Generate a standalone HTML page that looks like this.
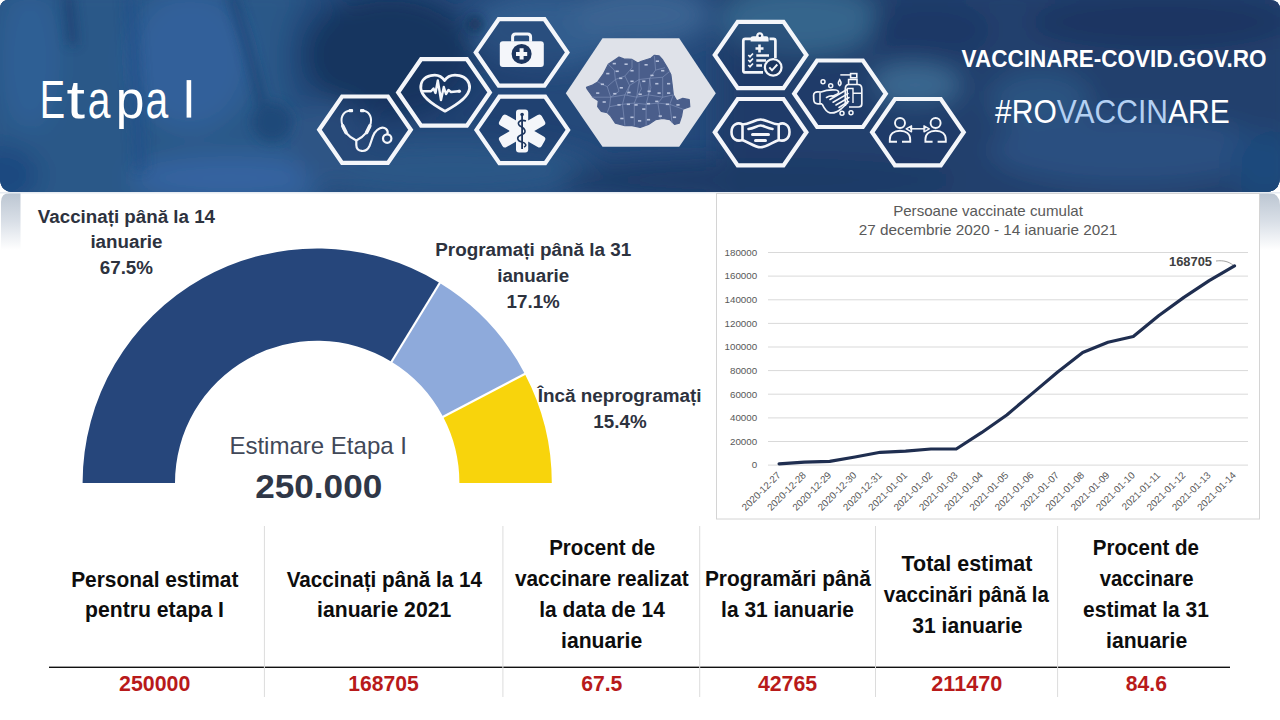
<!DOCTYPE html>
<html><head><meta charset="utf-8">
<style>
html,body{margin:0;padding:0;width:1280px;height:720px;overflow:hidden;background:#fff;}
svg{display:block;font-family:"Liberation Sans", sans-serif;}
</style></head>
<body>
<svg width="1280" height="720" viewBox="0 0 1280 720">
<defs>
  <clipPath id="hdrclip"><path d="M0,9 Q0,0 9,0 L1270,0 Q1280,0 1280,10 L1280,177 Q1280,192 1265,192 L14,192 Q0,192 0,178 Z"/></clipPath>
  <filter id="blur12" x="-50%" y="-50%" width="200%" height="200%"><feGaussianBlur stdDeviation="12"/></filter>
  <filter id="blur6" x="-50%" y="-50%" width="200%" height="200%"><feGaussianBlur stdDeviation="6"/></filter>
  <linearGradient id="tabL" x1="0" y1="0" x2="0" y2="1">
    <stop offset="0" stop-color="#bcc6d2"/><stop offset="0.5" stop-color="#d9dfe7"/><stop offset="1" stop-color="#ffffff"/>
  </linearGradient>
</defs>

<!-- side tabs -->
<path d="M1,250 L1,202 Q1,193 10,193 L20.5,193 L20.5,250 Z" fill="url(#tabL)"/>
<path d="M1259.5,193 L1268,193 Q1280,193 1280,205 L1280,250 L1259.5,250 Z" fill="url(#tabL)"/>

<!-- HEADER -->
<g clip-path="url(#hdrclip)">
  <rect x="0" y="0" width="1280" height="192" fill="#24497a"/>
  <g id="bgblobs"><rect x="0" y="0" width="1280" height="192" fill="#24497a"/>
<g filter="url(#blur12)">
  <!-- left coat -->
  <rect x="-20" y="-20" width="340" height="240" fill="#2b5888"/>
  <ellipse cx="190" cy="60" rx="60" ry="70" fill="#30609a"/>
  <ellipse cx="30" cy="60" rx="30" ry="70" fill="#2f5e94"/>
  <ellipse cx="0" cy="175" rx="40" ry="30" fill="#1f4a80"/>
  <ellipse cx="230" cy="178" rx="100" ry="22" fill="#3463a0"/>
  <ellipse cx="320" cy="60" rx="35" ry="70" fill="#24497a"/>
  <!-- middle -->
  <ellipse cx="545" cy="30" rx="75" ry="38" fill="#335d8e"/>
  <ellipse cx="390" cy="55" rx="85" ry="62" fill="#17365f"/>
  <ellipse cx="640" cy="15" rx="70" ry="30" fill="#3a6492"/>
  <ellipse cx="450" cy="170" rx="150" ry="30" fill="#2c5686"/>
  <ellipse cx="330" cy="140" rx="40" ry="40" fill="#2d5585"/>
  <!-- right navy with bokeh -->
  <rect x="720" y="-20" width="580" height="240" fill="#21406d"/>
  <ellipse cx="800" cy="20" rx="80" ry="35" fill="#35658c"/>
  <ellipse cx="930" cy="30" rx="60" ry="30" fill="#1d3866"/>
  <ellipse cx="915" cy="85" rx="45" ry="22" fill="#3a6890"/>
  <ellipse cx="1040" cy="100" rx="50" ry="30" fill="#2a5280"/>
  <ellipse cx="1160" cy="22" rx="130" ry="28" fill="#1e3662"/>
  <ellipse cx="1130" cy="150" rx="140" ry="35" fill="#2a5080"/>
  <ellipse cx="1265" cy="165" rx="35" ry="35" fill="#1e4a7c"/>
  <ellipse cx="760" cy="180" rx="200" ry="22" fill="#1d3a66"/>
</g>
<g filter="url(#blur6)" opacity="0.85">
  <path d="M68,-5 L73,45" stroke="#1b4070" stroke-width="9"/>
  <path d="M130,-5 C133,50 138,110 140,170" stroke="#24518a" stroke-width="11"/>
  <path d="M232,-5 C246,40 256,75 262,105" stroke="#1c4272" stroke-width="8"/>
  <circle cx="272" cy="122" r="20" fill="#1f4677"/>
  <circle cx="475" cy="24" r="7" fill="#10264a"/>
</g>
</g>
</g>
<rect x="0" y="192" width="1280" height="1.5" fill="#e6ebf2"/>

<g id="hexes"><path d="M321.0,129.7 L343.0,97.7 L387.0,97.7 L409.0,129.7 L387.0,161.7 L343.0,161.7 Z" fill="#1a3560" fill-opacity="0.35"/>
<path d="M400.0,92.4 L422.0,60.4 L466.0,60.4 L488.0,92.4 L466.0,124.4 L422.0,124.4 Z" fill="#1a3560" fill-opacity="0.35"/>
<path d="M477.6,52.4 L499.6,20.4 L543.6,20.4 L565.6,52.4 L543.6,84.4 L499.6,84.4 Z" fill="#1a3560" fill-opacity="0.35"/>
<path d="M478.3,129.9 L500.3,97.9 L544.3,97.9 L566.3,129.9 L544.3,161.9 L500.3,161.9 Z" fill="#1a3560" fill-opacity="0.35"/>
<path d="M716.6,55.0 L738.6,23.0 L782.6,23.0 L804.6,55.0 L782.6,87.0 L738.6,87.0 Z" fill="#1a3560" fill-opacity="0.35"/>
<path d="M716.6,132.2 L738.6,100.2 L782.6,100.2 L804.6,132.2 L782.6,164.2 L738.6,164.2 Z" fill="#1a3560" fill-opacity="0.35"/>
<path d="M796.0,93.8 L818.0,61.8 L862.0,61.8 L884.0,93.8 L862.0,125.8 L818.0,125.8 Z" fill="#1a3560" fill-opacity="0.35"/>
<path d="M873.9,132.2 L895.9,100.2 L939.9,100.2 L961.9,132.2 L939.9,164.2 L895.9,164.2 Z" fill="#1a3560" fill-opacity="0.35"/>
<path d="M319.2,129.7 L342.1,96.5 L387.9,96.5 L410.8,129.7 L387.9,162.9 L342.1,162.9 Z" fill="none" stroke="#f4f6fa" stroke-width="4.2" stroke-linejoin="miter"/>
<path d="M398.2,92.4 L421.1,59.2 L466.9,59.2 L489.8,92.4 L466.9,125.6 L421.1,125.6 Z" fill="none" stroke="#f4f6fa" stroke-width="4.2" stroke-linejoin="miter"/>
<path d="M475.8,52.4 L498.7,19.2 L544.5,19.2 L567.4,52.4 L544.5,85.6 L498.7,85.6 Z" fill="none" stroke="#f4f6fa" stroke-width="4.2" stroke-linejoin="miter"/>
<path d="M476.5,129.9 L499.4,96.7 L545.2,96.7 L568.1,129.9 L545.2,163.1 L499.4,163.1 Z" fill="none" stroke="#f4f6fa" stroke-width="4.2" stroke-linejoin="miter"/>
<path d="M714.8,55.0 L737.7,21.8 L783.5,21.8 L806.4,55.0 L783.5,88.2 L737.7,88.2 Z" fill="none" stroke="#f4f6fa" stroke-width="4.2" stroke-linejoin="miter"/>
<path d="M714.8,132.2 L737.7,99.0 L783.5,99.0 L806.4,132.2 L783.5,165.4 L737.7,165.4 Z" fill="none" stroke="#f4f6fa" stroke-width="4.2" stroke-linejoin="miter"/>
<path d="M794.2,93.8 L817.1,60.5 L862.9,60.5 L885.8,93.8 L862.9,127.0 L817.1,127.0 Z" fill="none" stroke="#f4f6fa" stroke-width="4.2" stroke-linejoin="miter"/>
<path d="M872.1,132.2 L895.0,99.0 L940.8,99.0 L963.7,132.2 L940.8,165.4 L895.0,165.4 Z" fill="none" stroke="#f4f6fa" stroke-width="4.2" stroke-linejoin="miter"/>
<path d="M565.8,93.3 L602.5,38.3 L679.2,38.3 L715.8,93.3 L679.2,146.7 L602.5,146.7 Z" fill="#dfe2e9"/>
<path d="M586.5,87.2 L591.8,85.4 L597.7,81.9 L603.6,73.6 L608.3,64.2 L615.4,59.4 L619.0,57.1 L623.7,58.9 L632.0,59.4 L637.9,63.0 L641.4,61.2 L650.9,58.3 L654.4,55.3 L659.1,55.9 L662.7,60.0 L667.4,67.7 L670.9,74.8 L672.1,84.3 L673.3,94.9 L676.8,100.8 L682.8,98.4 L689.2,99.6 L689.8,106.7 L682.8,109.1 L681.6,116.1 L679.2,123.2 L674.5,124.4 L669.8,119.7 L662.7,118.5 L655.6,119.7 L648.5,124.4 L640.2,127.4 L632.0,125.6 L624.9,125.6 L615.4,123.2 L610.7,116.1 L607.2,112.6 L601.3,111.4 L597.7,106.7 L598.3,100.8 L593.0,97.2 L587.1,89.0 Z" fill="#4a5e8b" stroke="#4a5e8b" stroke-width="1.2" stroke-linejoin="round"/>
<path d="M597.7,81.9 L607.2,86.6 L615.4,79.5 L614.3,70.1 L608.3,64.2" fill="none" stroke="#8797bd" stroke-width="0.6"/>
<path d="M615.4,79.5 L624.9,76.0 L632.0,67.7 L632.0,59.4" fill="none" stroke="#8797bd" stroke-width="0.6"/>
<path d="M624.9,76.0 L629.6,85.4 L639.1,79.5 L639.1,63.0" fill="none" stroke="#8797bd" stroke-width="0.6"/>
<path d="M639.1,79.5 L649.7,78.3 L655.6,70.1 L654.4,55.9" fill="none" stroke="#8797bd" stroke-width="0.6"/>
<path d="M649.7,78.3 L662.7,77.2 L669.8,71.3" fill="none" stroke="#8797bd" stroke-width="0.6"/>
<path d="M655.6,70.1 L665.0,67.7" fill="none" stroke="#8797bd" stroke-width="0.6"/>
<path d="M607.2,86.6 L610.7,97.2 L624.9,94.9 L629.6,85.4" fill="none" stroke="#8797bd" stroke-width="0.6"/>
<path d="M591.8,97.2 L610.7,97.2 L609.5,106.7 L607.2,112.6" fill="none" stroke="#8797bd" stroke-width="0.6"/>
<path d="M624.9,94.9 L636.7,97.2 L639.1,79.5" fill="none" stroke="#8797bd" stroke-width="0.6"/>
<path d="M636.7,97.2 L648.5,94.9 L649.7,78.3" fill="none" stroke="#8797bd" stroke-width="0.6"/>
<path d="M648.5,94.9 L662.7,97.2 L662.7,77.2" fill="none" stroke="#8797bd" stroke-width="0.6"/>
<path d="M662.7,97.2 L673.3,94.9" fill="none" stroke="#8797bd" stroke-width="0.6"/>
<path d="M609.5,106.7 L622.5,104.3 L624.9,94.9" fill="none" stroke="#8797bd" stroke-width="0.6"/>
<path d="M622.5,104.3 L624.9,125.6" fill="none" stroke="#8797bd" stroke-width="0.6"/>
<path d="M622.5,104.3 L634.3,103.1 L636.7,97.2" fill="none" stroke="#8797bd" stroke-width="0.6"/>
<path d="M634.3,103.1 L634.3,125.6" fill="none" stroke="#8797bd" stroke-width="0.6"/>
<path d="M634.3,103.1 L646.1,104.3 L648.5,94.9" fill="none" stroke="#8797bd" stroke-width="0.6"/>
<path d="M646.1,104.3 L646.1,125.6" fill="none" stroke="#8797bd" stroke-width="0.6"/>
<path d="M646.1,104.3 L657.9,103.1 L662.7,97.2" fill="none" stroke="#8797bd" stroke-width="0.6"/>
<path d="M657.9,103.1 L660.3,118.5" fill="none" stroke="#8797bd" stroke-width="0.6"/>
<path d="M657.9,103.1 L669.8,104.3 L673.3,94.9" fill="none" stroke="#8797bd" stroke-width="0.6"/>
<path d="M669.8,104.3 L672.1,123.2" fill="none" stroke="#8797bd" stroke-width="0.6"/>
<path d="M669.8,104.3 L682.8,109.1" fill="none" stroke="#8797bd" stroke-width="0.6"/>
<path d="M615.4,79.5 L619.0,91.3 L610.7,97.2" fill="none" stroke="#8797bd" stroke-width="0.6"/>
<path d="M629.6,85.4 L627.2,94.9" fill="none" stroke="#8797bd" stroke-width="0.6"/>
<path d="M649.7,78.3 L650.9,87.8 L648.5,94.9" fill="none" stroke="#8797bd" stroke-width="0.6"/>
<path d="M639.1,79.5 L641.4,89.0 L636.7,97.2" fill="none" stroke="#8797bd" stroke-width="0.6"/>
<rect x="612.7" y="62.8" width="3.2" height="1.6" fill="#b9c3dc"/>
<rect x="624.5" y="63.4" width="3.2" height="1.6" fill="#b9c3dc"/>
<rect x="644.5" y="64.0" width="3.2" height="1.6" fill="#b9c3dc"/>
<rect x="655.8" y="60.4" width="3.2" height="1.6" fill="#b9c3dc"/>
<rect x="606.2" y="72.8" width="3.2" height="1.6" fill="#b9c3dc"/>
<rect x="615.6" y="70.5" width="3.2" height="1.6" fill="#b9c3dc"/>
<rect x="630.4" y="69.9" width="3.2" height="1.6" fill="#b9c3dc"/>
<rect x="619.1" y="77.5" width="3.2" height="1.6" fill="#b9c3dc"/>
<rect x="650.4" y="74.6" width="3.2" height="1.6" fill="#b9c3dc"/>
<rect x="661.1" y="69.9" width="3.2" height="1.6" fill="#b9c3dc"/>
<rect x="600.8" y="83.5" width="3.2" height="1.6" fill="#b9c3dc"/>
<rect x="630.4" y="80.5" width="3.2" height="1.6" fill="#b9c3dc"/>
<rect x="642.2" y="80.5" width="3.2" height="1.6" fill="#b9c3dc"/>
<rect x="655.2" y="82.9" width="3.2" height="1.6" fill="#b9c3dc"/>
<rect x="667.0" y="82.9" width="3.2" height="1.6" fill="#b9c3dc"/>
<rect x="619.7" y="87.0" width="3.2" height="1.6" fill="#b9c3dc"/>
<rect x="596.1" y="92.3" width="3.2" height="1.6" fill="#b9c3dc"/>
<rect x="613.2" y="92.9" width="3.2" height="1.6" fill="#b9c3dc"/>
<rect x="627.4" y="91.7" width="3.2" height="1.6" fill="#b9c3dc"/>
<rect x="638.6" y="93.5" width="3.2" height="1.6" fill="#b9c3dc"/>
<rect x="647.5" y="90.5" width="3.2" height="1.6" fill="#b9c3dc"/>
<rect x="657.5" y="92.3" width="3.2" height="1.6" fill="#b9c3dc"/>
<rect x="667.0" y="92.3" width="3.2" height="1.6" fill="#b9c3dc"/>
<rect x="602.6" y="101.2" width="3.2" height="1.6" fill="#b9c3dc"/>
<rect x="617.4" y="104.1" width="3.2" height="1.6" fill="#b9c3dc"/>
<rect x="626.8" y="103.5" width="3.2" height="1.6" fill="#b9c3dc"/>
<rect x="634.5" y="104.1" width="3.2" height="1.6" fill="#b9c3dc"/>
<rect x="646.9" y="102.9" width="3.2" height="1.6" fill="#b9c3dc"/>
<rect x="655.2" y="100.6" width="3.2" height="1.6" fill="#b9c3dc"/>
<rect x="665.8" y="103.5" width="3.2" height="1.6" fill="#b9c3dc"/>
<rect x="676.4" y="104.1" width="3.2" height="1.6" fill="#b9c3dc"/>
<rect x="642.2" y="108.3" width="3.2" height="1.6" fill="#b9c3dc"/>
<rect x="630.4" y="116.5" width="3.2" height="1.6" fill="#b9c3dc"/>
<rect x="620.3" y="117.7" width="3.2" height="1.6" fill="#b9c3dc"/>
<rect x="638.0" y="120.1" width="3.2" height="1.6" fill="#b9c3dc"/>
<rect x="646.9" y="118.9" width="3.2" height="1.6" fill="#b9c3dc"/>
<rect x="658.7" y="115.3" width="3.2" height="1.6" fill="#b9c3dc"/>
<rect x="672.9" y="116.5" width="3.2" height="1.6" fill="#b9c3dc"/>
<path d="M350.5,110.8 C344,111 340.5,116 341.8,123 C343,131 349,137 356.3,140.5 C363,137 369.5,131 370.8,123 C372,116 368.5,111 362.5,110.8" fill="none" stroke="#f4f6fa" stroke-width="2"/>
<path d="M356.3,140.5 L356.3,145 C356.5,152 366,153.5 369.5,146 C372.5,139 373,131 380,128.2 C385,126.5 388.5,130 387.5,134" fill="none" stroke="#f4f6fa" stroke-width="2.2" stroke-linecap="round"/>
<circle cx="387.2" cy="138.6" r="4.2" fill="none" stroke="#f4f6fa" stroke-width="2.2"/>
<rect x="348.6" y="109" width="4.5" height="3.2" rx="1" fill="#f4f6fa"/><rect x="360" y="109" width="4.5" height="3.2" rx="1" fill="#f4f6fa"/>
<path d="M342.8,126 L346,132.5 M369.8,126 L366.6,132.5" stroke="#f4f6fa" stroke-width="3.6" stroke-linecap="round"/>
<path d="M444.6,80.6 C441,75 435,74.5 430.5,75.6 C424,77 420.5,82 420.8,88 C421.2,96 430,103 445,111.2 C460,103 469,96 469.6,88 C470,82 466,77 459.5,75.6 C454,74.5 448,75 444.6,80.6 Z" fill="none" stroke="#f4f6fa" stroke-width="2.8" stroke-linejoin="round"/>
<path d="M421.5,91.3 L431,91.3 L433.5,88.5 L435.5,93 L437.8,80.5 L441,100 L443.8,87 L446,94 L448.5,90 L451,92 L458.5,91.3" fill="none" stroke="#f4f6fa" stroke-width="2.4" stroke-linejoin="round"/>
<circle cx="459.2" cy="91.3" r="1.8" fill="#f4f6fa"/>
<path d="M512.6,41.8 L512.6,37 Q512.6,34 515.6,34 L527.6,34 Q530.6,34 530.6,37 L530.6,41.8" fill="none" stroke="#f4f6fa" stroke-width="3"/>
<rect x="499.8" y="41.3" width="44" height="25.6" rx="3" fill="#f4f6fa"/>
<circle cx="521.6" cy="53.9" r="10" fill="#1c355e"/>
<path d="M521.6,48.3 L521.6,59.5 M516,53.9 L527.2,53.9" stroke="#f4f6fa" stroke-width="4"/>
<rect x="516.0" y="109.4" width="12.2" height="43.2" rx="3" fill="#f4f6fa" transform="rotate(0 522.1 131)"/>
<rect x="516.0" y="106.5" width="12.2" height="49" rx="3" fill="#f4f6fa" transform="rotate(60 522.1 131)"/>
<rect x="516.0" y="106.5" width="12.2" height="49" rx="3" fill="#f4f6fa" transform="rotate(120 522.1 131)"/>
<path d="M522.1,114 L522.1,149" stroke="#1c355e" stroke-width="1.8"/>
<circle cx="522.1" cy="114.5" r="1.8" fill="#1c355e"/>
<path d="M526,121 C520,119 516,123 520,126 C526,129 527,133 521,135 C516,137 517,141 522,142 C526,143 527,146 524,147" fill="none" stroke="#1c355e" stroke-width="1.6"/>
<path d="M751,38.8 L745.3,38.8 Q743.3,38.8 743.3,40.8 L743.3,70.4 Q743.3,72.4 745.3,72.4 L763,72.4" fill="none" stroke="#f4f6fa" stroke-width="2.7"/>
<path d="M769.5,38.8 L773.4,38.8 Q775.4,38.8 775.4,40.8 L775.4,58" fill="none" stroke="#f4f6fa" stroke-width="2.7"/>
<path d="M750.6,41.5 L750.6,38.5 Q750.6,36.3 753,36.3 L756,36.3 Q756.5,32.3 759.8,32.3 Q763.1,32.3 763.6,36.3 L766.2,36.3 Q768.6,36.3 768.6,38.5 L768.6,41.5 Z" fill="#f4f6fa"/>
<circle cx="759.8" cy="35.8" r="1.3" fill="#1c355e"/>
<path d="M759.5,44.5 L759.5,52.5 M755.5,48.5 L763.5,48.5" stroke="#f4f6fa" stroke-width="2.6"/>
<path d="M748.3,55.0 L750,56.7 L753,53.5" fill="none" stroke="#f4f6fa" stroke-width="1.7"/>
<path d="M748.3,60.0 L750,61.7 L753,58.5" fill="none" stroke="#f4f6fa" stroke-width="1.7"/>
<path d="M748.3,65.0 L750,66.7 L753,63.5" fill="none" stroke="#f4f6fa" stroke-width="1.7"/>
<path d="M756.3,55.5 L769,55.5 M756.3,60.5 L766,60.5 M756.3,65.5 L762,65.5" stroke="#f4f6fa" stroke-width="2.3"/>
<circle cx="773.2" cy="67.4" r="8.3" fill="#1c355e" stroke="#f4f6fa" stroke-width="2.3"/>
<path d="M769.3,67.3 L772,70.3 L777.3,64.5" fill="none" stroke="#f4f6fa" stroke-width="2"/>
<path d="M742.5,124.5 C738,122 731.5,124 731.5,132 C731.5,139 737,142 742.5,140" fill="none" stroke="#f4f6fa" stroke-width="2.6"/>
<path d="M778.7,124.5 C783,122 789.5,124 789.5,132 C789.5,139 784,142 778.7,140" fill="none" stroke="#f4f6fa" stroke-width="2.6"/>
<path d="M742.5,124.5 C750,124 755,119.5 760.6,119.5 C766,119.5 771,124 778.7,124.5 L778.7,140 C771,143 766,147.3 760.6,147.3 C755,147.3 750,143 742.5,140 Z" fill="none" stroke="#f4f6fa" stroke-width="2.6" stroke-linejoin="round"/>
<path d="M748.5,129 C754,128.5 757,125.5 760.6,125.5 C764,125.5 767,128.5 772.5,129" fill="none" stroke="#f4f6fa" stroke-width="2.6" stroke-linecap="round"/>
<path d="M752.5,134.5 L768.5,134.5 M755.5,140.5 L765.5,140.5" stroke="#f4f6fa" stroke-width="3" stroke-linecap="round"/>
<path d="M845.3,106 L845.3,89 Q845.3,84.5 849,84.5 L858,84.5 Q861.8,84.5 861.8,89 L861.8,104 Q861.8,107 858.5,107 L849,107" fill="none" stroke="#f4f6fa" stroke-width="1.7"/>
<path d="M847.3,103 L847.3,88.5 L853,88.5 L853,103 M853,93.2 L861.5,93.2" fill="none" stroke="#f4f6fa" stroke-width="1.4"/>
<path d="M848.6,84.5 L848.6,79.5 L857,79.5 L857,84.5" fill="none" stroke="#f4f6fa" stroke-width="1.6"/>
<rect x="850.6" y="73.6" width="6.2" height="4.2" fill="none" stroke="#f4f6fa" stroke-width="1.6"/>
<path d="M840.3,74.9 L850.6,74.9" stroke="#f4f6fa" stroke-width="1.5"/>
<path d="M839.7,79.6 C838,82.3 837.3,84 839.7,85.6 C842.1,84 841.4,82.3 839.7,79.6 Z" fill="none" stroke="#f4f6fa" stroke-width="1.5"/>
<circle cx="823" cy="81.7" r="2" fill="none" stroke="#f4f6fa" stroke-width="1.5"/>
<circle cx="830.7" cy="85.7" r="2" fill="none" stroke="#f4f6fa" stroke-width="1.5"/>
<circle cx="842" cy="113.3" r="2" fill="none" stroke="#f4f6fa" stroke-width="1.5"/>
<circle cx="851" cy="112.8" r="2" fill="none" stroke="#f4f6fa" stroke-width="1.5"/>
<path d="M822,103.8 L818.5,103.8 C815.5,104 814,102.5 813.8,100 L813.6,95.5 C813.5,92.8 815.5,91.6 818,91.8 L821,92 C826,90 831,89.6 836,90 C838.6,90.3 839.6,92.6 837.5,94 L832,96.5" fill="none" stroke="#f4f6fa" stroke-width="1.7" stroke-linejoin="round"/>
<path d="M820,92.5 L820,103.5" stroke="#f4f6fa" stroke-width="1.5"/>
<path d="M822,103.8 C824,108 826,112 830,112.8 C834,113.5 838,111.5 841,109 L848,102.5" fill="none" stroke="#f4f6fa" stroke-width="1.7" stroke-linejoin="round"/>
<path d="M826.5,97.5 C829,96 832,95.5 834,96.5 M830,99.5 L846.5,89.8 M833,102.2 L848,93.6 M836,105 L849,97.5 M839,107.5 L848.5,101.5" fill="none" stroke="#f4f6fa" stroke-width="1.6" stroke-linecap="round"/>
<circle cx="900" cy="123" r="5" fill="none" stroke="#f4f6fa" stroke-width="1.9"/>
<path d="M897.0,141.8 L889.8,141.8 L889.8,139.5 C889.8,134 894.0,130.8 900.0,130.8 C906.0,130.8 910.2,134 910.2,139.5 L910.2,141.8 L902.0,141.8" fill="none" stroke="#f4f6fa" stroke-width="1.9"/>
<circle cx="935.6" cy="123" r="5" fill="none" stroke="#f4f6fa" stroke-width="1.9"/>
<path d="M932.6,141.8 L925.4,141.8 L925.4,139.5 C925.4,134 929.6,130.8 935.6,130.8 C941.6,130.8 945.8,134 945.8,139.5 L945.8,141.8 L937.6,141.8" fill="none" stroke="#f4f6fa" stroke-width="1.9"/>
<path d="M910,128.8 L925.5,128.8" stroke="#f4f6fa" stroke-width="1.5"/>
<path d="M906.2,128.8 L911.5,125.8 L911.5,131.8 Z M929.3,128.8 L924,125.8 L924,131.8 Z" fill="none" stroke="#f4f6fa" stroke-width="1.4" stroke-linejoin="round"/></g>

<!-- header texts -->
<text transform="translate(39.66,117.6) scale(0.698,1)" font-size="54.5" fill="#ffffff">E</text><text transform="translate(66.42,117.6) scale(1.223,1)" font-size="54.5" fill="#ffffff">t</text><text transform="translate(87.78,117.6) scale(0.750,1)" font-size="54.5" fill="#ffffff">a</text><text transform="translate(115.69,117.6) scale(0.947,1)" font-size="54.5" fill="#ffffff">p</text><text transform="translate(145.58,117.6) scale(0.750,1)" font-size="54.5" fill="#ffffff">a</text><rect x="186.6" y="80.1" width="4.6" height="37.5" fill="#ffffff"/>
<text x="961.6" y="66.5" font-size="23.2" font-weight="bold" fill="#ffffff" textLength="305" lengthAdjust="spacingAndGlyphs">VACCINARE-COVID.GOV.RO</text>
<text x="995.1" y="123.2" font-size="32.6" fill="#ffffff" textLength="234.6" lengthAdjust="spacingAndGlyphs">#RO<tspan fill="#b4d0f2">VACCIN</tspan>ARE</text>

<!-- DONUT -->
<g id="donut"><path d="M82.60,483.00 A234.6,234.6 0 0 1 439.78,282.97 L391.50,361.75 A142.2,142.2 0 0 0 175.00,483.00 Z" fill="#26467b"/><path d="M439.78,282.97 A234.6,234.6 0 0 1 524.88,373.88 L443.08,416.86 A142.2,142.2 0 0 0 391.50,361.75 Z" fill="#8eaadb"/><path d="M524.88,373.88 A234.6,234.6 0 0 1 551.80,483.00 L459.40,483.00 A142.2,142.2 0 0 0 443.08,416.86 Z" fill="#f8d40c"/><line x1="440.82" y1="281.27" x2="390.45" y2="363.46" stroke="#fff" stroke-width="2.2"/><line x1="526.65" y1="372.95" x2="441.31" y2="417.79" stroke="#fff" stroke-width="2.2"/><text x="37.8" y="222.7" font-size="18.8" font-weight="bold" fill="#2d323e" textLength="177.2" lengthAdjust="spacingAndGlyphs">Vaccinați până la 14</text><text x="126.4" y="248.4" font-size="18.8" font-weight="bold" fill="#2d323e" text-anchor="middle">ianuarie</text><text x="126.4" y="273.8" font-size="18.8" font-weight="bold" fill="#2d323e" text-anchor="middle">67.5%</text><text x="435.3" y="256.1" font-size="18.8" font-weight="bold" fill="#2d323e" textLength="195.9" lengthAdjust="spacingAndGlyphs">Programați până la 31</text><text x="533.2" y="282.4" font-size="18.8" font-weight="bold" fill="#2d323e" text-anchor="middle">ianuarie</text><text x="533.2" y="308.2" font-size="18.8" font-weight="bold" fill="#2d323e" text-anchor="middle">17.1%</text><text x="537.7" y="401.6" font-size="18.8" font-weight="bold" fill="#2d323e" textLength="163.9" lengthAdjust="spacingAndGlyphs">Încă neprogramați</text><text x="620.0" y="428.4" font-size="18.8" font-weight="bold" fill="#2d323e" text-anchor="middle">15.4%</text><text x="229.4" y="454.1" font-size="23.8" fill="#414858" textLength="177.6" lengthAdjust="spacingAndGlyphs">Estimare Etapa I</text><text x="255.2" y="498.0" font-size="32.6" font-weight="bold" fill="#2f3747" textLength="127.1" lengthAdjust="spacingAndGlyphs">250.000</text></g>

<!-- LINE CHART -->
<g id="chart"><rect x="716.5" y="193.5" width="543" height="325.5" fill="#fff" stroke="#d4d4d4" stroke-width="1"/><text x="988.0" y="216.2" font-size="15" fill="#595959" text-anchor="middle" textLength="189.7" lengthAdjust="spacingAndGlyphs">Persoane vaccinate cumulat</text><text x="988.0" y="235.0" font-size="15" fill="#595959" text-anchor="middle" textLength="258.5" lengthAdjust="spacingAndGlyphs">27 decembrie 2020 - 14 ianuarie 2021</text><line x1="768" y1="465.1" x2="1248" y2="465.1" stroke="#d9d9d9" stroke-width="1"/><text x="757.2" y="468.4" font-size="9.8" fill="#595959" text-anchor="end">0</text><line x1="768" y1="441.5" x2="1248" y2="441.5" stroke="#d9d9d9" stroke-width="1"/><text x="757.2" y="444.8" font-size="9.8" fill="#595959" text-anchor="end">20000</text><line x1="768" y1="417.9" x2="1248" y2="417.9" stroke="#d9d9d9" stroke-width="1"/><text x="757.2" y="421.2" font-size="9.8" fill="#595959" text-anchor="end">40000</text><line x1="768" y1="394.2" x2="1248" y2="394.2" stroke="#d9d9d9" stroke-width="1"/><text x="757.2" y="397.5" font-size="9.8" fill="#595959" text-anchor="end">60000</text><line x1="768" y1="370.6" x2="1248" y2="370.6" stroke="#d9d9d9" stroke-width="1"/><text x="757.2" y="373.9" font-size="9.8" fill="#595959" text-anchor="end">80000</text><line x1="768" y1="347.0" x2="1248" y2="347.0" stroke="#d9d9d9" stroke-width="1"/><text x="757.2" y="350.3" font-size="9.8" fill="#595959" text-anchor="end">100000</text><line x1="768" y1="323.4" x2="1248" y2="323.4" stroke="#d9d9d9" stroke-width="1"/><text x="757.2" y="326.7" font-size="9.8" fill="#595959" text-anchor="end">120000</text><line x1="768" y1="299.8" x2="1248" y2="299.8" stroke="#d9d9d9" stroke-width="1"/><text x="757.2" y="303.1" font-size="9.8" fill="#595959" text-anchor="end">140000</text><line x1="768" y1="276.1" x2="1248" y2="276.1" stroke="#d9d9d9" stroke-width="1"/><text x="757.2" y="279.4" font-size="9.8" fill="#595959" text-anchor="end">160000</text><line x1="768" y1="252.5" x2="1248" y2="252.5" stroke="#d9d9d9" stroke-width="1"/><text x="757.2" y="255.8" font-size="9.8" fill="#595959" text-anchor="end">180000</text><polyline points="779.1,463.9 804.4,462.1 829.7,461.4 855.0,457.0 880.3,452.3 905.6,451.2 930.9,449.0 956.2,449.0 981.5,432.7 1006.8,415.0 1032.1,393.6 1057.4,372.2 1082.7,352.4 1108.0,342.3 1133.3,336.5 1158.6,315.7 1183.9,297.4 1209.2,280.6 1234.5,265.9" fill="none" stroke="#1f2e50" stroke-width="3.2" stroke-linejoin="round" stroke-linecap="round"/><text x="781.3" y="475.8" font-size="9.8" fill="#555555" text-anchor="end" transform="rotate(-45 781.3 475.8)">2020-12-27</text><text x="806.6" y="475.8" font-size="9.8" fill="#555555" text-anchor="end" transform="rotate(-45 806.6 475.8)">2020-12-28</text><text x="831.9" y="475.8" font-size="9.8" fill="#555555" text-anchor="end" transform="rotate(-45 831.9 475.8)">2020-12-29</text><text x="857.2" y="475.8" font-size="9.8" fill="#555555" text-anchor="end" transform="rotate(-45 857.2 475.8)">2020-12-30</text><text x="882.5" y="475.8" font-size="9.8" fill="#555555" text-anchor="end" transform="rotate(-45 882.5 475.8)">2020-12-31</text><text x="907.8" y="475.8" font-size="9.8" fill="#555555" text-anchor="end" transform="rotate(-45 907.8 475.8)">2021-01-01</text><text x="933.1" y="475.8" font-size="9.8" fill="#555555" text-anchor="end" transform="rotate(-45 933.1 475.8)">2021-01-02</text><text x="958.4" y="475.8" font-size="9.8" fill="#555555" text-anchor="end" transform="rotate(-45 958.4 475.8)">2021-01-03</text><text x="983.7" y="475.8" font-size="9.8" fill="#555555" text-anchor="end" transform="rotate(-45 983.7 475.8)">2021-01-04</text><text x="1009.0" y="475.8" font-size="9.8" fill="#555555" text-anchor="end" transform="rotate(-45 1009.0 475.8)">2021-01-05</text><text x="1034.3" y="475.8" font-size="9.8" fill="#555555" text-anchor="end" transform="rotate(-45 1034.3 475.8)">2021-01-06</text><text x="1059.6" y="475.8" font-size="9.8" fill="#555555" text-anchor="end" transform="rotate(-45 1059.6 475.8)">2021-01-07</text><text x="1084.9" y="475.8" font-size="9.8" fill="#555555" text-anchor="end" transform="rotate(-45 1084.9 475.8)">2021-01-08</text><text x="1110.2" y="475.8" font-size="9.8" fill="#555555" text-anchor="end" transform="rotate(-45 1110.2 475.8)">2021-01-09</text><text x="1135.5" y="475.8" font-size="9.8" fill="#555555" text-anchor="end" transform="rotate(-45 1135.5 475.8)">2021-01-10</text><text x="1160.8" y="475.8" font-size="9.8" fill="#555555" text-anchor="end" transform="rotate(-45 1160.8 475.8)">2021-01-11</text><text x="1186.1" y="475.8" font-size="9.8" fill="#555555" text-anchor="end" transform="rotate(-45 1186.1 475.8)">2021-01-12</text><text x="1211.4" y="475.8" font-size="9.8" fill="#555555" text-anchor="end" transform="rotate(-45 1211.4 475.8)">2021-01-13</text><text x="1236.7" y="475.8" font-size="9.8" fill="#555555" text-anchor="end" transform="rotate(-45 1236.7 475.8)">2021-01-14</text><text x="1169.0" y="265.9" font-size="12.2" font-weight="bold" fill="#404040" textLength="43.0" lengthAdjust="spacingAndGlyphs">168705</text><path d="M1216,261 C1224,260 1229,262 1233,265" fill="none" stroke="#8a8a8a" stroke-width="0.8"/></g>

<!-- TABLE -->
<g id="table"><rect x="49" y="666.6" width="1181" height="1.4" fill="#111"/><rect x="263.9" y="526" width="1" height="171" fill="#dcdcdc"/><rect x="502.4" y="526" width="1" height="171" fill="#dcdcdc"/><rect x="699.2" y="526" width="1" height="171" fill="#dcdcdc"/><rect x="875.0" y="526" width="1" height="171" fill="#dcdcdc"/><rect x="1057.1" y="526" width="1" height="171" fill="#dcdcdc"/><text x="71.2" y="586.6" font-size="21.6" font-weight="bold" fill="#0d0d0d" textLength="167.2" lengthAdjust="spacingAndGlyphs">Personal estimat</text><text x="85.0" y="617.0" font-size="21.6" font-weight="bold" fill="#0d0d0d" textLength="139.0" lengthAdjust="spacingAndGlyphs">pentru etapa I</text><text x="286.7" y="586.6" font-size="21.6" font-weight="bold" fill="#0d0d0d" textLength="195.4" lengthAdjust="spacingAndGlyphs">Vaccinați până la 14</text><text x="317.1" y="616.8" font-size="21.6" font-weight="bold" fill="#0d0d0d" textLength="134.1" lengthAdjust="spacingAndGlyphs">ianuarie 2021</text><text x="549.2" y="555.3" font-size="21.6" font-weight="bold" fill="#0d0d0d" textLength="106.0" lengthAdjust="spacingAndGlyphs">Procent de</text><text x="514.9" y="586.0" font-size="21.6" font-weight="bold" fill="#0d0d0d" textLength="173.9" lengthAdjust="spacingAndGlyphs">vaccinare realizat</text><text x="539.3" y="617.2" font-size="21.6" font-weight="bold" fill="#0d0d0d" textLength="125.5" lengthAdjust="spacingAndGlyphs">la data de 14</text><text x="561.0" y="648.3" font-size="21.6" font-weight="bold" fill="#0d0d0d" textLength="81.2" lengthAdjust="spacingAndGlyphs">ianuarie</text><text x="704.9" y="586.4" font-size="21.6" font-weight="bold" fill="#0d0d0d" textLength="166.0" lengthAdjust="spacingAndGlyphs">Programări până</text><text x="721.1" y="617.0" font-size="21.6" font-weight="bold" fill="#0d0d0d" textLength="132.9" lengthAdjust="spacingAndGlyphs">la 31 ianuarie</text><text x="901.6" y="571.3" font-size="21.6" font-weight="bold" fill="#0d0d0d" textLength="130.8" lengthAdjust="spacingAndGlyphs">Total estimat</text><text x="883.8" y="601.9" font-size="21.6" font-weight="bold" fill="#0d0d0d" textLength="165.0" lengthAdjust="spacingAndGlyphs">vaccinări până la</text><text x="912.3" y="633.2" font-size="21.6" font-weight="bold" fill="#0d0d0d" textLength="110.2" lengthAdjust="spacingAndGlyphs">31 ianuarie</text><text x="1092.8" y="555.3" font-size="21.6" font-weight="bold" fill="#0d0d0d" textLength="106.2" lengthAdjust="spacingAndGlyphs">Procent de</text><text x="1099.7" y="586.0" font-size="21.6" font-weight="bold" fill="#0d0d0d" textLength="93.8" lengthAdjust="spacingAndGlyphs">vaccinare</text><text x="1083.1" y="617.0" font-size="21.6" font-weight="bold" fill="#0d0d0d" textLength="125.8" lengthAdjust="spacingAndGlyphs">estimat la 31</text><text x="1106.0" y="648.3" font-size="21.6" font-weight="bold" fill="#0d0d0d" textLength="81.2" lengthAdjust="spacingAndGlyphs">ianuarie</text><text x="119.1" y="691.4" font-size="22.8" font-weight="bold" fill="#b81a1a" textLength="71.2" lengthAdjust="spacingAndGlyphs">250000</text><text x="348.3" y="691.4" font-size="22.8" font-weight="bold" fill="#b81a1a" textLength="70.4" lengthAdjust="spacingAndGlyphs">168705</text><text x="581.2" y="691.4" font-size="22.8" font-weight="bold" fill="#b81a1a" textLength="41.2" lengthAdjust="spacingAndGlyphs">67.5</text><text x="757.9" y="691.4" font-size="22.8" font-weight="bold" fill="#b81a1a" textLength="59.2" lengthAdjust="spacingAndGlyphs">42765</text><text x="931.3" y="691.4" font-size="22.8" font-weight="bold" fill="#b81a1a" textLength="71.0" lengthAdjust="spacingAndGlyphs">211470</text><text x="1125.8" y="691.4" font-size="22.8" font-weight="bold" fill="#b81a1a" textLength="41.1" lengthAdjust="spacingAndGlyphs">84.6</text></g>
</svg>
</body></html>
